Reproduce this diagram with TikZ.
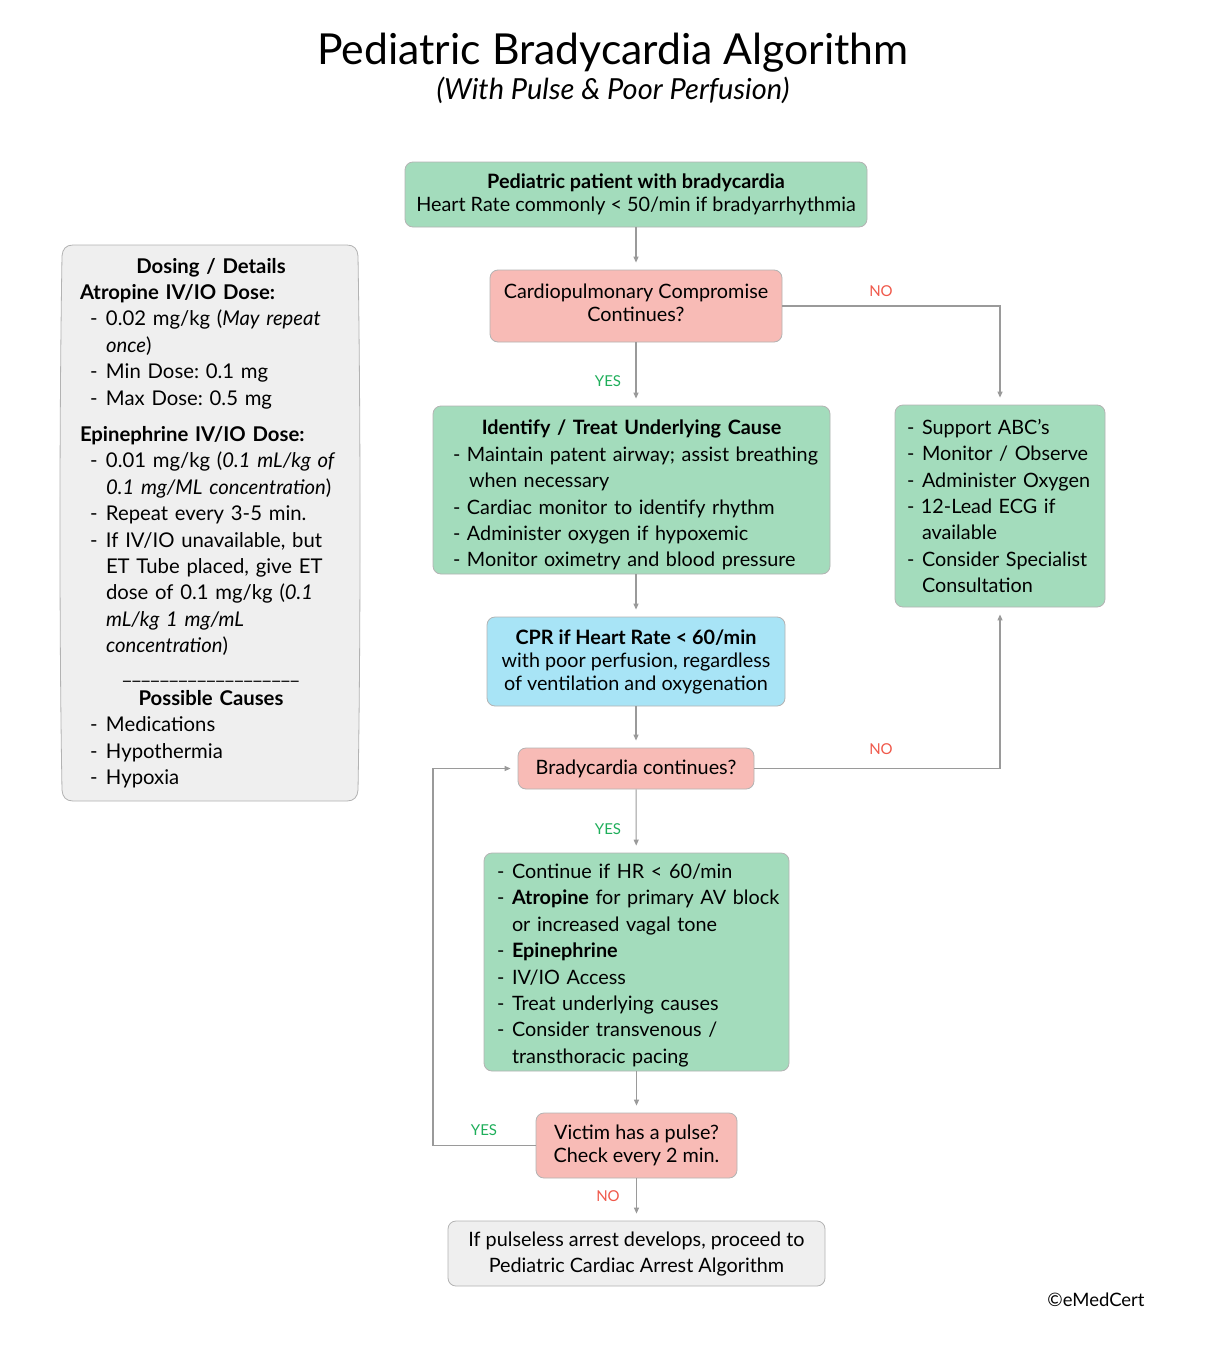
\documentclass[tikz,border=0pt]{standalone}
\usepackage{fontspec}
\setmainfont{Lato}
\usetikzlibrary{arrows.meta,calc}
\frenchspacing
\definecolor{gfill}{HTML}{A3DCBC}
\definecolor{pfill}{HTML}{F8BBB6}
\definecolor{bfill}{HTML}{A8E4F6}
\definecolor{grfill}{HTML}{EFEFEF}
\definecolor{bord}{HTML}{B3B3B3}
\definecolor{conn}{HTML}{9A9A9A}
\definecolor{yesc}{HTML}{1EAE5A}
\definecolor{noc}{HTML}{F0594B}
\newcommand{\listfont}{\fontsize{19.8}{26.4}\selectfont\parindent=0pt}
\newcommand{\dosefont}{\fontsize{20.3}{26.4}\selectfont\parindent=0pt}
\newcommand{\ctrfont}{\fontsize{19.8}{23}\selectfont}
\newcommand{\dItem}{\hspace*{10pt}\makebox[16pt][l]{-}}
\newcommand{\hItem}{\hspace*{26pt}}
\newcommand{\rDash}{\makebox[15pt][l]{-}}
\tikzset{
  box/.style={draw=bord, line width=0.8pt, rounded corners=8pt, inner sep=0pt},
  ctr/.style={box, align=center, font=\ctrfont},
  lst/.style={box, font=\listfont},
  gbox/.style={fill=gfill},
  pbox/.style={fill=pfill},
  bbox/.style={fill=bfill},
  grbox/.style={fill=grfill},
  arr/.style={draw=conn, line width=1.1pt, -{Triangle[length=6pt,width=5pt]}, shorten >=7pt},
  yes/.style={text=yesc, font=\fontsize{15}{18}\selectfont},
  no/.style={text=noc, font=\fontsize{15}{18}\selectfont},
}
\begin{document}
\begin{tikzpicture}[x=1pt,y=-1pt]
\fill[white] (0,0) rectangle (1224,1354);
\useasboundingbox (0,0) rectangle (1224,1354);

\node (title) at (613,53) {\fontsize{42.7}{50}\selectfont Pediatric Bradycardia Algorithm};
\node (subtitle) at (613,90) {\fontsize{29}{34}\selectfont\itshape (With Pulse \& Poor Perfusion)};

\node[ctr, gbox, minimum width=462pt, minimum height=65pt] (start) at (636,194.5)
  {\textbf{Pediatric patient with bradycardia}\\Heart Rate commonly < 50/min if bradyarrhythmia};
\node[ctr, pbox, minimum width=292pt, minimum height=72pt] (cardio) at (636,306)
  {Cardiopulmonary Compromise\\Continues?\rule[-6pt]{0pt}{6pt}};
\node[lst, gbox, text width=385pt, inner xsep=6pt, minimum height=168pt] (ident) at (631.5,490)
  {{\centering\rule{0pt}{25pt}\textbf{Identify / Treat Underlying Cause}\par}
   \raggedright\leftskip=14pt
   - Maintain patent airway; assist breathing\\
   \hspace*{16pt}when necessary\\
   - Cardiac monitor to identify rhythm\\
   - Administer oxygen if hypoxemic\\
   - Monitor oximetry and blood pressure\par};
\node[ctr, bbox, minimum width=298pt, minimum height=89pt] (cpr) at (636,661.5)
  {\textbf{CPR if Heart Rate < 60/min}\\with poor perfusion, regardless\\of ventilation and oxygenation};
\node[ctr, pbox, minimum width=236pt, minimum height=41pt] (brady) at (636,768.5)
  {Bradycardia continues?};
\node[lst, gbox, text width=299pt, inner xsep=3pt, minimum height=218pt] (treat) at (636.5,962)
  {\raggedright\leftskip=10pt
   \rule{0pt}{21.5pt}\rDash Continue if HR < 60/min\\
   \rDash \textbf{Atropine} for primary AV block\\
   \hspace*{15pt}or increased vagal tone\\
   \rDash \textbf{Epinephrine}\\
   \rDash IV/IO Access\\
   \rDash Treat underlying causes\\
   \rDash Consider transvenous /\\
   \hspace*{15pt}transthoracic pacing\par};
\node[ctr, pbox, minimum width=201pt, minimum height=65pt] (victim) at (636.5,1145.5)
  {Victim has a pulse?\\Check every 2 min.};
\node[box, grbox, align=center, font={\fontsize{19.8}{26}\selectfont}, minimum width=377pt, minimum height=65pt] (pulseless) at (636.5,1253.5)
  {If pulseless arrest develops, proceed to\\Pediatric Cardiac Arrest Algorithm};
\node[lst, gbox, text width=206pt, inner xsep=2pt, minimum height=202pt] (support) at (1000,506)
  {\raggedright\leftskip=10pt
   \rDash Support ABC’s\\
   \rDash Monitor / Observe\\
   \rDash Administer Oxygen\\
   - 12-Lead ECG if\\
   \hspace*{15pt}available\\
   \rDash Consider Specialist\\
   \hspace*{15pt}Consultation\par};

\path[draw=bord, line width=0.8pt, fill=grfill]
  (73,245) -- (347,245) .. controls (354,245) and (357.5,249) .. (358,256)
  .. controls (360.7,420) and (360.7,640) .. (358,790)
  .. controls (357.5,797) and (354,801) .. (347,801) -- (73,801)
  .. controls (66,801) and (62.5,797) .. (62,790)
  .. controls (59.3,640) and (59.3,420) .. (62,256)
  .. controls (62.5,249) and (66,245) .. (73,245) -- cycle;
\node[lst, font=\dosefont, draw=none, text width=290pt, inner xsep=4pt, minimum height=556pt] (dose) at (211,523)
  {{\centering\textbf{Dosing / Details}\par}
   \raggedright\leftskip=14pt
   \textbf{Atropine IV/IO Dose:}\\
   \dItem 0.02 mg/kg (\textit{May repeat}\\
   \hItem\textit{once})\\
   \dItem Min Dose: 0.1 mg\\
   \dItem Max Dose: 0.5 mg\\[10pt]
   \textbf{Epinephrine IV/IO Dose:}\\
   \dItem 0.01 mg/kg (\textit{0.1 mL/kg of}\\
   \hItem\textit{0.1 mg/ML concentration})\\
   \dItem Repeat every 3-5 min.\\
   \dItem If IV/IO unavailable, but\\
   \hItem ET Tube placed, give ET\\
   \hItem dose of 0.1 mg/kg (\textit{0.1}\\
   \hItem\textit{mL/kg 1 mg/mL}\\
   \hItem\textit{concentration})\par
   {\leftskip=0pt\centering\_\_\_\_\_\_\_\_\_\_\_\_\_\_\_\_\_\_\_\par}
   {\leftskip=0pt\centering\textbf{Possible Causes}\par}
   \raggedright\leftskip=14pt
   \dItem Medications\\
   \dItem Hypothermia\\
   \dItem Hypoxia\par};

\node (copy) at (1096,1300) {\fontsize{18.5}{22}\selectfont ©eMedCert};

\coordinate (loopx) at (433,1145.5);

\draw[arr] (start) -- (cardio);
\draw[arr] (cardio.south) -- (cardio.south |- ident.north);
\draw[arr] (cardio.east) -| (support.north);
\draw[arr] (ident.south -| cardio.south) -- (cardio.south |- cpr.north);
\draw[arr] (cpr) -- (brady);
\draw[arr] (brady) -- (treat);
\draw[arr] (brady.east) -| (support.south);
\draw[arr] (treat) -- (victim);
\draw[arr] (victim) -- (pulseless);
\draw[arr] (victim.west) -- (loopx) |- (brady.west);

\node[yes] (y1) at (608,381) {YES};
\node[no] (n1) at (881,291) {NO};
\node[no] (n2) at (881,749) {NO};
\node[yes] (y2) at (608,829) {YES};
\node[yes] (y3) at (484,1130) {YES};
\node[no] (n3) at (608,1196) {NO};
\end{tikzpicture}
\end{document}
